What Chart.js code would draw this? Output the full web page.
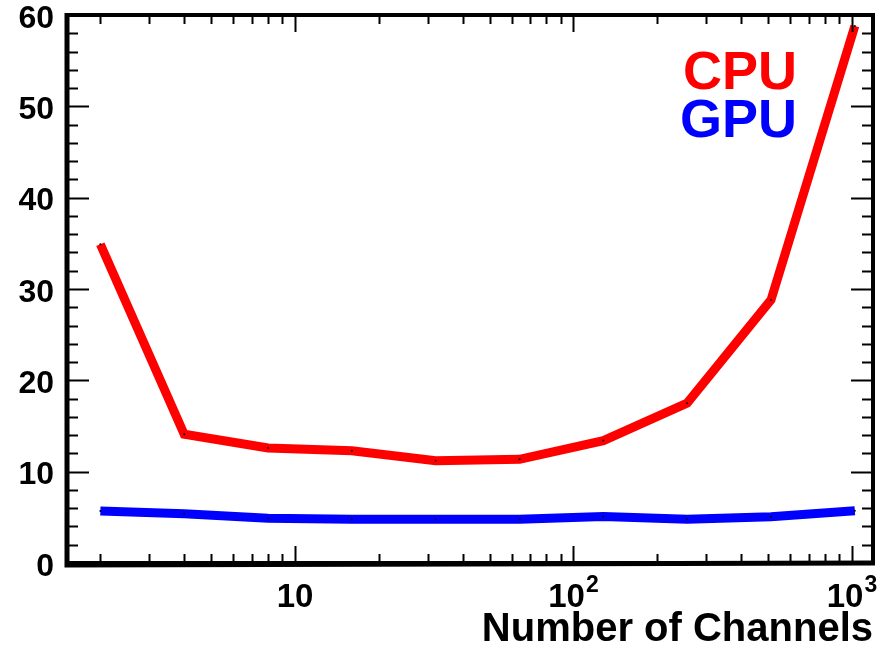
<!DOCTYPE html>
<html>
<head>
<meta charset="utf-8">
<script src="https://cdn.jsdelivr.net/npm/chart.js@4/dist/chart.umd.min.js"></script>
<style>
  html, body { margin: 0; padding: 0; background: #fff; }
  #wrap { width: 883px; height: 652px; }
</style>
</head>
<body>
<div id="wrap"><canvas id="chart" width="883" height="652"></canvas></div>
<script>
// Datos
const channels = [2, 4, 8, 16, 32, 64, 128, 256, 512, 1024];
const cpuTime = [34.9, 14.1, 12.6, 12.3, 11.2, 11.35, 13.4, 17.5, 28.8, 58.8];
const gpuTime = [5.7, 5.4, 4.9, 4.78, 4.78, 4.78, 5.1, 4.78, 5.07, 5.73];

const yMajorTicks = [0, 10, 20, 30, 40, 50, 60];
const xMajorTicks = [10, 100, 1000];
const xMajorLabels = [['10', ''], ['10', '2'], ['10', '3']];
const xTitle = 'Number of Channels';

const FONT = '"Liberation Sans", Arial, Helvetica, sans-serif';

/**
 * Dibuja marco, marcas hacia dentro, etiquetas y leyenda al estilo ROOT.
 */
const rootFrame = {
    id: 'rootFrame',
    afterDraw(chart) {
        const { ctx, chartArea: a, scales } = chart;
        const xs = scales.x, ys = scales.y;
        ctx.save();

        // marcas del eje Y (izquierda y derecha)
        ctx.strokeStyle = '#000';
        ctx.lineWidth = 2;
        ctx.beginPath();
        for (let v = 0; v <= 60; v += 2) {
            const y = Math.round(ys.getPixelForValue(v)) + 0.5;
            const len = v % 10 === 0 ? 22 : 11;
            ctx.moveTo(a.left, y); ctx.lineTo(a.left + len, y);
            ctx.moveTo(a.right, y); ctx.lineTo(a.right - len, y);
        }
        // marcas del eje X (abajo y arriba), escala logarítmica
        for (let dec = 1; dec <= 1000; dec *= 10) {
            for (let m = 1; m <= 9; m++) {
                const v = dec * m;
                if (v < xs.min || v > xs.max) continue;
                const x = Math.round(xs.getPixelForValue(v)) + 0.5;
                const len = m === 1 ? 17 : 9;
                ctx.moveTo(x, a.bottom); ctx.lineTo(x, a.bottom - len);
                ctx.moveTo(x, a.top); ctx.lineTo(x, a.top + len);
            }
        }
        ctx.stroke();

        // marco
        ctx.lineWidth = 4;
        ctx.strokeRect(a.left, a.top, a.right - a.left, a.bottom - a.top);
        ctx.lineWidth = 5;
        ctx.beginPath();
        ctx.moveTo(a.left, a.top - 2); ctx.lineTo(a.left, a.bottom + 2);
        ctx.lineTo(a.right + 2, a.bottom);
        ctx.stroke();

        // etiquetas eje Y
        ctx.fillStyle = '#000';
        ctx.font = 'bold 32px ' + FONT;
        ctx.textAlign = 'right';
        ctx.textBaseline = 'middle';
        yMajorTicks.forEach(v => {
            ctx.fillText(String(v), a.left - 13, ys.getPixelForValue(v) + 4);
        });

        // etiquetas eje X con superíndice
        ctx.textBaseline = 'alphabetic';
        ctx.textAlign = 'left';
        xMajorTicks.forEach((v, i) => {
            const [base, sup] = xMajorLabels[i];
            ctx.font = 'bold 33px ' + FONT;
            const wb = ctx.measureText(base).width;
            ctx.font = 'bold 23px ' + FONT;
            const ws = sup ? ctx.measureText(sup).width + 1 : 0;
            const x0 = xs.getPixelForValue(v) - (wb + ws) / 2;
            ctx.font = 'bold 33px ' + FONT;
            ctx.fillText(base, x0, 607);
            if (sup) {
                ctx.font = 'bold 23px ' + FONT;
                ctx.fillText(sup, x0 + wb + 1, 592);
            }
        });

        // título eje X
        ctx.font = 'bold 40px ' + FONT;
        ctx.textAlign = 'right';
        ctx.fillText(xTitle, a.right, 641);

        // leyenda
        ctx.font = 'bold 54px ' + FONT;
        const legendY = [89, 137];
        chart.data.datasets.forEach((ds, i) => {
            ctx.fillStyle = ds.borderColor;
            ctx.fillText(ds.label, 797, legendY[i]);
        });

        ctx.restore();
    }
};

function buildChart() {
    const ctx = document.getElementById('chart').getContext('2d');
    return new Chart(ctx, {
        type: 'line',
        data: {
            labels: channels,
            datasets: [
                {
                    label: 'CPU',
                    data: channels.map((c, i) => ({ x: c, y: cpuTime[i] })),
                    borderColor: '#ff0000',
                    borderWidth: 9,
                    pointRadius: 1,
                    pointBorderWidth: 0,
                    pointBackgroundColor: '#000',
                    tension: 0,
                    clip: false
                },
                {
                    label: 'GPU',
                    data: channels.map((c, i) => ({ x: c, y: gpuTime[i] })),
                    borderColor: '#0000ff',
                    borderWidth: 9,
                    pointRadius: 1,
                    pointBorderWidth: 0,
                    pointBackgroundColor: '#000',
                    tension: 0,
                    clip: false
                }
            ]
        },
        options: {
            responsive: false,
            animation: false,
            devicePixelRatio: 1,
            layout: { padding: { left: 67, right: 10, top: 15, bottom: 89 } },
            plugins: {
                legend: { display: false },
                tooltip: { enabled: false }
            },
            scales: {
                x: { type: 'logarithmic', min: 1.518, max: 1190, display: false },
                y: { type: 'linear', min: 0, max: 60, display: false }
            }
        },
        plugins: [rootFrame]
    });
}

buildChart();
</script>
</body>
</html>
